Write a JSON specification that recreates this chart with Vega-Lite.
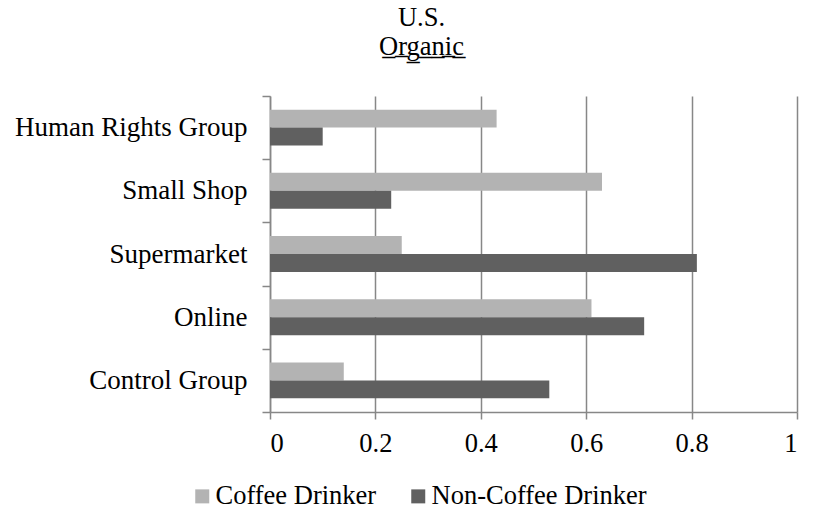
{
  "$schema": "https://vega.github.io/schema/vega-lite/v6.json",
  "autosize": {"type": "none"},
  "width": 527,
  "height": 316,
  "padding": {"left": 270, "top": 96, "right": 17, "bottom": 100},
  "background": "white",
  "title": {
    "text": ["U.S.", "O̲r̲g̲a̲n̲i̲c̲"],
    "frame": "group",
    "anchor": "middle",
    "dx": -112,
    "font": "Liberation Serif",
    "fontSize": 26.5,
    "fontWeight": "normal",
    "color": "black",
    "lineHeight": 29,
    "offset": 22
  },
  "data": {
    "values": [
      {"category": "Human Rights Group", "group": "Coffee Drinker", "value": 0.43},
      {"category": "Human Rights Group", "group": "Non-Coffee Drinker", "value": 0.10},
      {"category": "Small Shop", "group": "Coffee Drinker", "value": 0.63},
      {"category": "Small Shop", "group": "Non-Coffee Drinker", "value": 0.23},
      {"category": "Supermarket", "group": "Coffee Drinker", "value": 0.25},
      {"category": "Supermarket", "group": "Non-Coffee Drinker", "value": 0.81},
      {"category": "Online", "group": "Coffee Drinker", "value": 0.61},
      {"category": "Online", "group": "Non-Coffee Drinker", "value": 0.71},
      {"category": "Control Group", "group": "Coffee Drinker", "value": 0.14},
      {"category": "Control Group", "group": "Non-Coffee Drinker", "value": 0.53}
    ]
  },
  "mark": {"type": "bar"},
  "encoding": {
    "y": {
      "field": "category",
      "type": "nominal",
      "sort": ["Human Rights Group", "Small Shop", "Supermarket", "Online", "Control Group"],
      "scale": {"paddingInner": 0, "paddingOuter": 0},
      "axis": {
        "title": null,
        "grid": false,
        "tickBand": "extent",
        "tickSize": 8,
        "tickColor": "#878787",
        "tickWidth": 1.5,
        "domainColor": "#878787",
        "domainWidth": 1.5,
        "labelFont": "Liberation Serif",
        "labelFontSize": 27,
        "labelColor": "black",
        "labelPadding": 15,
        "labelLimit": 400
      }
    },
    "yOffset": {
      "field": "group",
      "type": "nominal",
      "sort": ["Coffee Drinker", "Non-Coffee Drinker"],
      "scale": {"paddingInner": 0, "paddingOuter": 0.76}
    },
    "x": {
      "field": "value",
      "type": "quantitative",
      "scale": {"domain": [0, 1], "nice": false},
      "axis": {
        "title": null,
        "values": [0, 0.2, 0.4, 0.6, 0.8, 1],
        "format": "~g",
        "grid": true,
        "gridColor": "#878787",
        "gridWidth": 1.5,
        "domainColor": "#878787",
        "domainWidth": 1.5,
        "tickColor": "#878787",
        "tickWidth": 1.5,
        "tickSize": 7,
        "labelFont": "Liberation Serif",
        "labelFontSize": 26.5,
        "labelColor": "black",
        "labelBaseline": "middle",
        "labelPadding": 24
      }
    },
    "color": {
      "field": "group",
      "type": "nominal",
      "scale": {"domain": ["Coffee Drinker", "Non-Coffee Drinker"], "range": ["#b3b3b3", "#606060"]},
      "legend": {
        "title": null,
        "orient": "none",
        "legendX": -81,
        "legendY": 387,
        "direction": "horizontal",
        "symbolType": "square",
        "symbolSize": 196,
        "symbolStrokeWidth": 0,
        "labelFont": "Liberation Serif",
        "labelFontSize": 26.5,
        "labelColor": "black",
        "labelOffset": 0,
        "labelLimit": 400,
        "columnPadding": 28
      }
    }
  },
  "config": {"view": {"stroke": null}}
}
